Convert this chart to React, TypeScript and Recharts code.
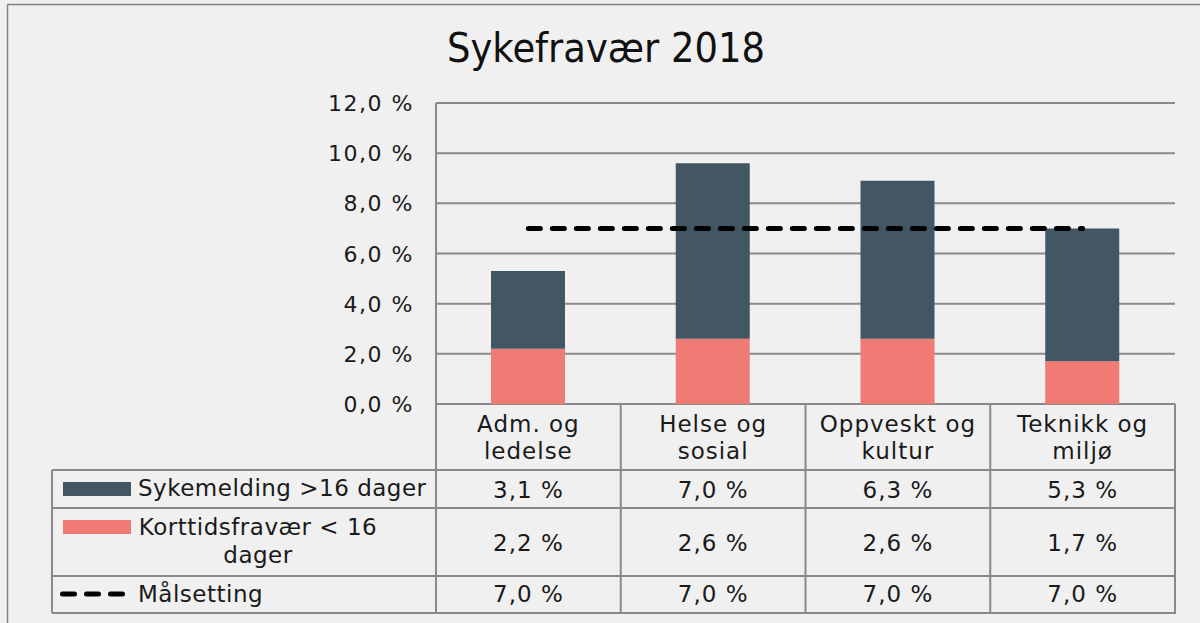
import React from "react";
import { ComposedChart, Bar, Line, XAxis, YAxis, CartesianGrid } from "recharts";

const categories = ["Adm. og ledelse", "Helse og sosial", "Oppveskt og kultur", "Teknikk og miljø"];
const sykemelding = [3.1, 7.0, 6.3, 5.3];
const korttid = [2.2, 2.6, 2.6, 1.7];
const malsetting = [7.0, 7.0, 7.0, 7.0];
const yTicks = [0, 2, 4, 6, 8, 10, 12];

const data = categories.map((cat, i) => ({
  cat,
  sykemelding: sykemelding[i],
  korttid: korttid[i],
  malsetting: malsetting[i],
}));

const W = 1200;
const H = 623;
const PLOT_L = 436;
const PLOT_R = 1175;
const PLOT_T = 103;
const PLOT_B = 404;
const HEAD_H = 66;
const TABLE_L = 52;
const ROW_LINES = [470, 508, 576, 613];
const BAND = (PLOT_R - PLOT_L) / categories.length;

const DARK = "#435664";
const RED = "#f07a74";
const GRID = "#8a8a8a";
const FONT = "DejaVu Sans, Verdana, sans-serif";

const pct = (v: number) => v.toFixed(1).replace(".", ",") + " %";

function splitCat(s: string) {
  const i = s.indexOf(" og ");
  return [s.slice(0, i + 3), s.slice(i + 4)];
}

const YTick = ({ x, y, payload }: any) => (
  <text x={x} y={y + 8} textAnchor="end" fontSize={22} letterSpacing={1.5} fill="#1a1a1a" fontFamily={FONT}>
    {pct(payload.value)}
  </text>
);

const XTick = ({ x, payload }: any) => {
  const [a, b] = splitCat(payload.value);
  return (
    <text textAnchor="middle" fontSize={23} letterSpacing={1} fill="#1a1a1a" fontFamily={FONT}>
      <tspan x={x} y={PLOT_B + 28}>{a}</tspan>
      <tspan x={x} y={PLOT_B + 55}>{b}</tspan>
    </text>
  );
};

function TableOverlay() {
  const rows = [
    { values: sykemelding, y: 498 },
    { values: korttid, y: 551 },
    { values: malsetting, y: 602 },
  ];
  const txt = { fontSize: 23, fill: "#1a1a1a", fontFamily: FONT };
  return (
    <svg width={W} height={H} style={{ position: "absolute", left: 0, top: 0, pointerEvents: "none" }}>
      {/* frame */}
      <line x1={7.5} y1={4.5} x2={W} y2={4.5} stroke="#808080" strokeWidth={1.5} />
      <line x1={7.5} y1={4.5} x2={7.5} y2={H} stroke="#808080" strokeWidth={1.5} />

      {/* title */}
      <text x={447} y={62} fontSize={40} textLength={318} lengthAdjust="spacingAndGlyphs" fill="#111" fontFamily={FONT}>
        Sykefravær 2018
      </text>

      {/* table grid */}
      {categories.map((_, i) => (
        <line key={i} x1={PLOT_L + (i + 1) * BAND} y1={PLOT_B} x2={PLOT_L + (i + 1) * BAND} y2={613} stroke={GRID} strokeWidth={2} />
      ))}
      <line x1={PLOT_L} y1={PLOT_B} x2={PLOT_L} y2={613} stroke={GRID} strokeWidth={2} />
      <line x1={TABLE_L} y1={ROW_LINES[0]} x2={TABLE_L} y2={613} stroke={GRID} strokeWidth={2} />
      {ROW_LINES.map((y) => (
        <line key={y} x1={TABLE_L} y1={y} x2={PLOT_R + 1} y2={y} stroke={GRID} strokeWidth={2} />
      ))}

      {/* values */}
      {rows.map((r, ri) =>
        r.values.map((v, i) => (
          <text key={`${ri}-${i}`} x={PLOT_L + (i + 0.5) * BAND} y={r.y} textAnchor="middle" letterSpacing={1} {...txt}>
            {pct(v)}
          </text>
        ))
      )}

      {/* legend column */}
      <rect x={63} y={482} width={68} height={14} fill={DARK} />
      <text x={138} y={496} letterSpacing={0.5} {...txt}>Sykemelding &gt;16 dager</text>
      <rect x={63} y={520} width={68} height={14} fill={RED} />
      <text x={258} y={535} textAnchor="middle" letterSpacing={0.5} {...txt}>Korttidsfravær &lt; 16</text>
      <text x={258} y={563} textAnchor="middle" letterSpacing={0.5} {...txt}>dager</text>
      <line x1={62.5} y1={594} x2={122.5} y2={594} stroke="#000" strokeWidth={5} strokeDasharray="12 12" strokeLinecap="round" />
      <text x={138} y={602} letterSpacing={0.5} {...txt}>Målsetting</text>
    </svg>
  );
}

export default function App() {
  return (
    <div style={{ position: "absolute", left: 0, top: 0, width: W, height: H, background: "#f0f0f0", overflow: "hidden" }}>
      <ComposedChart
        width={W}
        height={H}
        data={data}
        margin={{ top: PLOT_T, right: W - PLOT_R, left: PLOT_L - 80, bottom: H - PLOT_B - HEAD_H }}
      >
        <CartesianGrid vertical={false} stroke={GRID} strokeWidth={2} />
        <XAxis dataKey="cat" height={HEAD_H} axisLine={false} tickLine={false} tickSize={0} tickMargin={0} tick={<XTick />} interval={0} />
        <YAxis
          width={80}
          domain={[0, 12]}
          ticks={yTicks}
          axisLine={{ stroke: GRID, strokeWidth: 2 }}
          tickLine={false}
          tickSize={0}
          tickMargin={22}
          tick={<YTick />}
        />
        <Bar dataKey="korttid" stackId="a" fill={RED} barSize={74} isAnimationActive={false} />
        <Bar dataKey="sykemelding" stackId="a" fill={DARK} barSize={74} isAnimationActive={false} />
        <Line
          dataKey="malsetting"
          stroke="#000"
          strokeWidth={5}
          strokeDasharray="12 12"
          strokeLinecap="round"
          dot={false}
          activeDot={false}
          isAnimationActive={false}
        />
      </ComposedChart>
      <TableOverlay />
    </div>
  );
}
